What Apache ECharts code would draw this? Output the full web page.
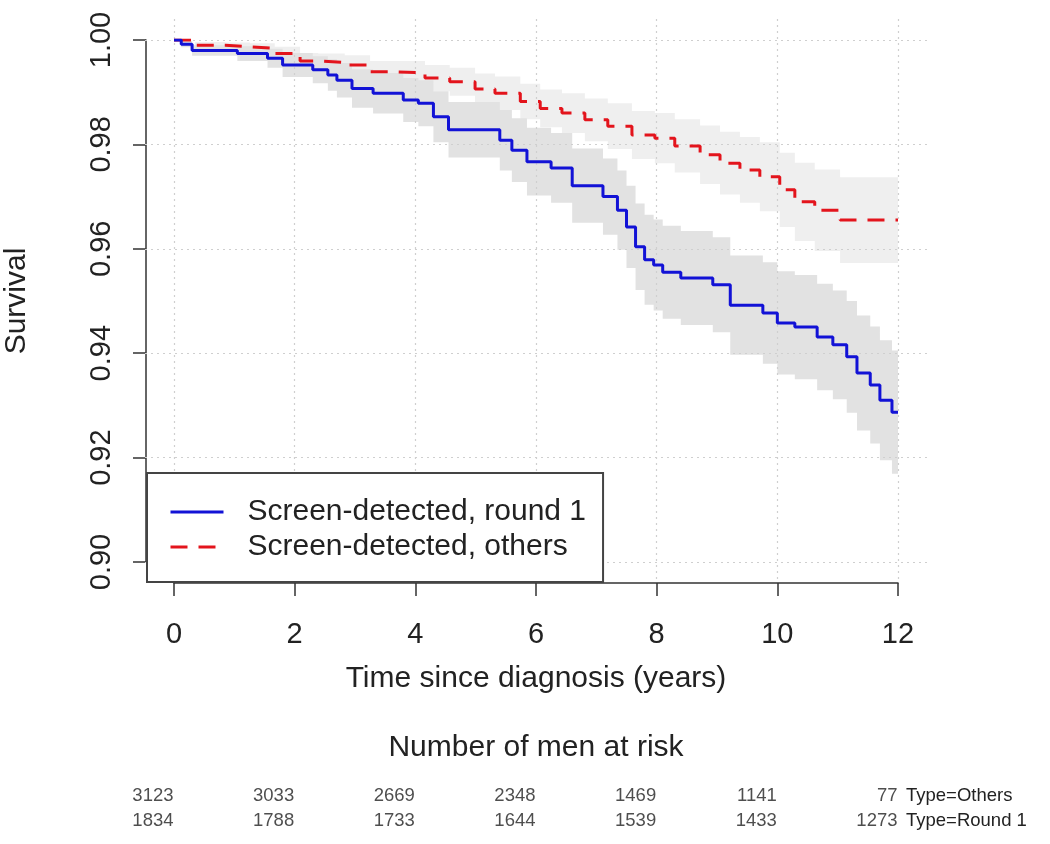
<!DOCTYPE html>
<html>
<head>
<meta charset="utf-8">
<script src="https://cdn.jsdelivr.net/npm/echarts@6/dist/echarts.min.js"></script>
<style>
  html, body { margin: 0; padding: 0; background: #ffffff; }
  #chart { width: 1050px; height: 844px; }
</style>
</head>
<body>
<div id="chart"></div>
<script>
// ---------------- data ----------------
const nameRound1 = 'Screen-detected, round 1';
const nameOthers = 'Screen-detected, others';

const xTicks = [0, 2, 4, 6, 8, 10, 12];
const yTicks = [0.90, 0.92, 0.94, 0.96, 0.98, 1.00];

// Kaplan-Meier estimate, round 1
const timesRound1 = [0, 0.12, 0.30, 1.05, 1.55, 1.80, 2.30, 2.55, 2.70, 2.95, 3.30, 3.80, 4.05, 4.30, 4.55,
  5.40, 5.60, 5.85, 6.25, 6.60, 7.11, 7.35, 7.50, 7.65, 7.80, 7.95, 8.10, 8.40, 8.93, 9.22, 9.76,
  10.00, 10.29, 10.66, 10.92, 11.15, 11.32, 11.54, 11.70, 11.90, 12.00];
const survRound1 = [1.0000, 0.9992, 0.9980, 0.9974, 0.9965, 0.9952, 0.9943, 0.9933, 0.9923, 0.9907, 0.9898, 0.9885, 0.9879, 0.9853, 0.9828,
  0.9808, 0.9789, 0.9767, 0.9755, 0.9721, 0.9700, 0.9674, 0.9642, 0.9604, 0.9579, 0.9569, 0.9555, 0.9544, 0.9531, 0.9492, 0.9477,
  0.9458, 0.9450, 0.9431, 0.9416, 0.9393, 0.9362, 0.9339, 0.9310, 0.9287, 0.9287];
const lowerRound1 = [1.0000, 0.9986, 0.9970, 0.9960, 0.9947, 0.9929, 0.9917, 0.9903, 0.9890, 0.9870, 0.9859, 0.9843, 0.9835, 0.9804, 0.9775,
  0.9750, 0.9728, 0.9702, 0.9688, 0.9650, 0.9627, 0.9598, 0.9563, 0.9521, 0.9493, 0.9482, 0.9466, 0.9454, 0.9440, 0.9397, 0.9380,
  0.9359, 0.9350, 0.9329, 0.9312, 0.9286, 0.9252, 0.9227, 0.9195, 0.9169, 0.9169];
const upperRound1 = [1.0000, 0.9998, 0.9990, 0.9988, 0.9983, 0.9975, 0.9969, 0.9963, 0.9956, 0.9944, 0.9937, 0.9927, 0.9923, 0.9902, 0.9881,
  0.9866, 0.9850, 0.9832, 0.9822, 0.9792, 0.9773, 0.9750, 0.9721, 0.9687, 0.9665, 0.9656, 0.9644, 0.9634, 0.9622, 0.9587, 0.9574,
  0.9557, 0.9550, 0.9533, 0.9520, 0.9500, 0.9472, 0.9451, 0.9425, 0.9405, 0.9405];

// Kaplan-Meier estimate, others
const timesOthers = [0, 0.35, 0.85, 1.26, 1.67, 2.09, 2.39, 2.83, 3.25, 3.66, 4.16, 4.57, 4.99, 5.32, 5.74,
  6.07, 6.43, 6.81, 7.19, 7.59, 7.97, 8.30, 8.72, 9.05, 9.38, 9.71, 10.04, 10.29, 10.62, 11.04, 12.00];
const survOthers = [1.0000, 0.9990, 0.9987, 0.9984, 0.9974, 0.9960, 0.9957, 0.9952, 0.9939, 0.9937, 0.9927, 0.9920, 0.9906, 0.9898, 0.9882,
  0.9869, 0.9860, 0.9847, 0.9835, 0.9818, 0.9812, 0.9797, 0.9780, 0.9764, 0.9751, 0.9738, 0.9713, 0.9690, 0.9674, 0.9655, 0.9655];
const lowerOthers = [1.0000, 0.9984, 0.9979, 0.9974, 0.9961, 0.9945, 0.9940, 0.9933, 0.9918, 0.9914, 0.9902, 0.9893, 0.9876, 0.9866, 0.9848,
  0.9833, 0.9822, 0.9806, 0.9791, 0.9772, 0.9764, 0.9746, 0.9724, 0.9704, 0.9688, 0.9672, 0.9642, 0.9615, 0.9596, 0.9573, 0.9573];
const upperOthers = [1.0000, 0.9996, 0.9995, 0.9994, 0.9987, 0.9975, 0.9974, 0.9971, 0.9960, 0.9960, 0.9952, 0.9947, 0.9936, 0.9930, 0.9916,
  0.9905, 0.9898, 0.9888, 0.9879, 0.9864, 0.9860, 0.9848, 0.9836, 0.9824, 0.9814, 0.9804, 0.9784, 0.9765, 0.9752, 0.9737, 0.9737];

// Number at risk table
const riskTimes = [0, 2, 4, 6, 8, 10, 12];
const riskGroups = ['Type=Round 1', 'Type=Others'];
const riskOthers = [3123, 3033, 2669, 2348, 1469, 1141, 77];
const riskRound1 = [1834, 1788, 1733, 1644, 1539, 1433, 1273];

// ---------------- chart ----------------
const FONT = '"Liberation Sans", Arial, Helvetica, sans-serif';
const TXT = '#222222';
const BLUE = '#1212d6';
const RED = '#e3141c';

const pairs = (ts, vs) => ts.map((t, i) => [t, vs[i]]);

// step-shaped confidence band polygon, positioned through the axes' scales
function bandSeries(ts, lo, up, color, z) {
  return {
    type: 'custom', xAxisIndex: 0, yAxisIndex: 0, silent: true, z: z,
    data: [[ts[0], lo[0]]],
    renderItem: function (params, api) {
      const top = [], bot = [];
      for (let i = 0; i < ts.length; i++) {
        const tNext = i < ts.length - 1 ? ts[i + 1] : ts[i];
        top.push(api.coord([ts[i], up[i]]), api.coord([tNext, up[i]]));
        bot.push(api.coord([ts[i], lo[i]]), api.coord([tNext, lo[i]]));
      }
      return {
        type: 'polygon',
        shape: { points: top.concat(bot.reverse()) },
        style: { fill: color, stroke: null }
      };
    }
  };
}

const gridBase = { outerBoundsMode: 'none', containLabel: false };

const option = {
  animation: false,
  backgroundColor: '#ffffff',
  textStyle: { fontFamily: FONT, color: TXT },
  grid: [
    Object.assign({ left: 174, right: 152, top: 40, bottom: 282 }, gridBase),
    Object.assign({ left: 145, right: 123, top: 19, bottom: 261 }, gridBase),
    Object.assign({ left: 174, right: 152, top: 783.5, bottom: 10.5 }, gridBase)
  ],
  xAxis: [
    {
      gridIndex: 0, type: 'value', min: 0, max: 12, interval: 2, offset: 21,
      axisLine: { show: true, onZero: false, lineStyle: { color: '#333', width: 1.5 } },
      axisTick: { show: true, length: 13, lineStyle: { color: '#333', width: 1.5 } },
      axisLabel: { fontSize: 29, color: TXT, margin: 37, fontFamily: FONT },
      splitLine: { show: false },
      name: 'Time since diagnosis (years)', nameLocation: 'middle', nameGap: 81,
      nameTextStyle: { fontSize: 30, color: TXT, fontFamily: FONT }
    },
    {
      gridIndex: 1, type: 'value', min: -0.48, max: 12.48, z: 3,
      axisLine: { show: false },
      axisTick: { show: false, customValues: xTicks },
      axisLabel: { show: false, customValues: xTicks },
      splitLine: { show: true, lineStyle: { color: '#cfcfcf', width: 1.2, type: [2, 4] } }
    },
    {
      gridIndex: 2, type: 'value', min: 0, max: 12, position: 'top',
      axisLine: { show: false }, axisTick: { show: false }, axisLabel: { show: false },
      splitLine: { show: false },
      name: 'Number of men at risk', nameLocation: 'middle', nameGap: 21,
      nameTextStyle: { fontSize: 30, color: TXT, fontFamily: FONT }
    }
  ],
  yAxis: [
    {
      gridIndex: 0, type: 'value', min: 0.9, max: 1.0, interval: 0.02, offset: 28,
      axisLine: { show: true, onZero: false, lineStyle: { color: '#333', width: 1.5 } },
      axisTick: { show: true, length: 13, lineStyle: { color: '#333', width: 1.5 } },
      axisLabel: { fontSize: 29, color: TXT, margin: 30, rotate: 90, fontFamily: FONT,
        formatter: v => v.toFixed(2) },
      splitLine: { show: false },
      name: 'Survival', nameLocation: 'middle', nameGap: 114,
      nameTextStyle: { fontSize: 30, color: TXT, fontFamily: FONT }
    },
    {
      gridIndex: 1, type: 'value', min: 0.896, max: 1.004, z: 3,
      axisLine: { show: false },
      axisTick: { show: false, customValues: yTicks },
      axisLabel: { show: false, customValues: yTicks },
      splitLine: { show: true, lineStyle: { color: '#cfcfcf', width: 1.2, type: [2, 4] } }
    },
    {
      gridIndex: 2, type: 'category', data: riskGroups, position: 'right',
      axisLine: { show: false }, axisTick: { show: false },
      axisLabel: { fontSize: 18.5, color: TXT, margin: 8, align: 'left', fontFamily: FONT },
      splitLine: { show: false }
    }
  ],
  legend: {
    data: [nameRound1, nameOthers],
    orient: 'vertical', left: 147, top: 473,
    padding: [24, 17, 20, 22],
    itemWidth: 53, itemHeight: 30, itemGap: 5,
    backgroundColor: '#ffffff', borderColor: '#444', borderWidth: 2, borderRadius: 0,
    textStyle: { fontSize: 30, color: TXT, fontFamily: FONT, padding: [0, 0, 0, 19] },
    itemStyle: { opacity: 0 },
    lineStyle: { width: 3 },
    selectedMode: false, z: 10
  },
  series: [
    bandSeries(timesOthers, lowerOthers, upperOthers, '#efefef', 1),
    bandSeries(timesRound1, lowerRound1, upperRound1, '#e2e2e2', 2),
    {
      type: 'line', name: nameOthers, xAxisIndex: 0, yAxisIndex: 0,
      data: pairs(timesOthers, survOthers), step: 'end', symbol: 'none',
      lineStyle: { color: RED, width: 3, type: [17, 11] }, itemStyle: { color: RED }, z: 5
    },
    {
      type: 'line', name: nameRound1, xAxisIndex: 0, yAxisIndex: 0,
      data: pairs(timesRound1, survRound1), step: 'end', symbol: 'none',
      lineStyle: { color: BLUE, width: 3 }, itemStyle: { color: BLUE }, z: 6
    },
    {
      type: 'scatter', name: 'risk', xAxisIndex: 2, yAxisIndex: 2, silent: true,
      symbolSize: 1, itemStyle: { color: 'rgba(0,0,0,0)' },
      data: riskTimes.map((t, i) => [t, riskGroups[1], riskOthers[i]])
        .concat(riskTimes.map((t, i) => [t, riskGroups[0], riskRound1[i]])),
      label: { show: true, position: 'left', distance: 0, fontSize: 18.5, color: TXT, fontFamily: FONT,
        formatter: p => String(p.value[2]) }
    }
  ]
};

const chart = echarts.init(document.getElementById('chart'), null, { renderer: 'canvas' });
chart.setOption(option);
</script>
</body>
</html>
